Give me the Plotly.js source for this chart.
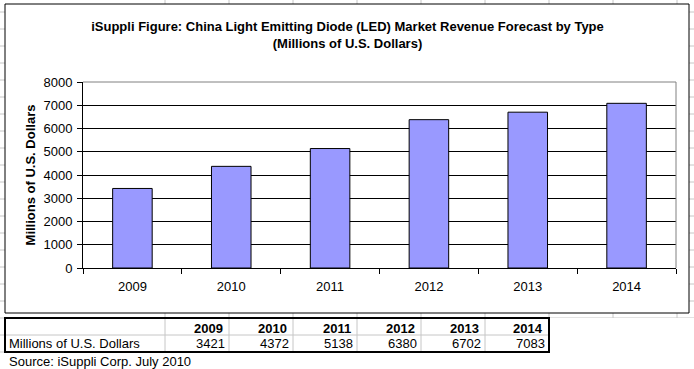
<!DOCTYPE html>
<html><head><meta charset="utf-8">
<script src="https://cdn.plot.ly/plotly-3.0.1.min.js"></script>
<style>html,body{margin:0;padding:0;background:#fff;} #chart{width:694px;height:369px;}</style>
</head><body><div id="chart"></div>
<script>
// ---- data ----
const years = ['2009', '2010', '2011', '2012', '2013', '2014'];
const revenue = [3421, 4372, 5138, 6380, 6702, 7083];
const seriesName = 'Millions of U.S. Dollars';
const yTickVals = [0, 1000, 2000, 3000, 4000, 5000, 6000, 7000, 8000];
const titleLines = ['iSuppli Figure: China Light Emitting Diode (LED) Market Revenue Forecast by Type', '(Millions of U.S. Dollars)'];
const yTitle = 'Millions of U.S. Dollars';
const sourceNote = 'Source: iSuppli Corp. July 2010';

// ---- geometry helpers (pixels -> paper, margins are 0) ----
const W = 694, H = 369;
const px = x => x / W;
const py = y => 1 - y / H;
const FONT = 'Liberation Sans, Arial, sans-serif';

const shapes = [];
// spreadsheet grid behind everything
for (let k = 0; k <= 8; k++) {
  const x = 165 + 64 * k;
  shapes.push({type: 'line', xref: 'paper', yref: 'paper', layer: 'below',
    x0: px(x), x1: px(x), y0: 0, y1: 1, line: {color: '#c6c6c6', width: 1}});
}
for (let k = 0; k <= 21; k++) {
  const y = 12 + 17 * k;
  shapes.push({type: 'line', xref: 'paper', yref: 'paper', layer: 'below',
    x0: 0, x1: 1, y0: py(y), y1: py(y), line: {color: '#c6c6c6', width: 1}});
}
// blank areas of the sheet (below table, right of table)
shapes.push({type: 'rect', xref: 'paper', yref: 'paper', layer: 'below',
  x0: 0, x1: 1, y0: 0, y1: py(353), fillcolor: '#ffffff', line: {width: 0}});
shapes.push({type: 'rect', xref: 'paper', yref: 'paper', layer: 'below',
  x0: px(550), x1: 1, y0: 0, y1: py(318), fillcolor: '#ffffff', line: {width: 0}});
// chart box
shapes.push({type: 'rect', xref: 'paper', yref: 'paper', layer: 'below',
  x0: px(5), x1: px(689), y0: py(313), y1: py(4),
  fillcolor: '#ffffff', line: {color: '#000000', width: 1}});
// plot-area border (top & right, gray)
shapes.push({type: 'line', xref: 'x domain', yref: 'y domain', layer: 'above',
  x0: 0, x1: 1, y0: 1, y1: 1, line: {color: '#808080', width: 1}});
shapes.push({type: 'line', xref: 'x domain', yref: 'y domain', layer: 'above',
  x0: 1, x1: 1, y0: 0, y1: 1, line: {color: '#808080', width: 1}});
// data table thick outline
shapes.push({type: 'rect', xref: 'paper', yref: 'paper', layer: 'above',
  x0: px(5), x1: px(549), y0: py(352), y1: py(318),
  line: {color: '#000000', width: 2}});

const bars = {
  type: 'bar', x: years, y: revenue, name: seriesName,
  marker: {color: '#9999ff', line: {color: '#000000', width: 1}},
  hoverinfo: 'x+y'
};

// ---- data table below the chart (built from the arrays) ----
const annotations = [];
const cellFont = {family: FONT, size: 13, color: '#000'};
annotations.push({text: seriesName, xref: 'paper', yref: 'paper',
  x: px(7), y: py(343), xanchor: 'left', yanchor: 'middle', showarrow: false, font: cellFont});
years.forEach((yr, i) => {
  const right = 229 + 64 * i;
  annotations.push({text: '<b>' + yr + '</b>', xref: 'paper', yref: 'paper',
    x: px(right - 4), y: py(328), xanchor: 'right', yanchor: 'middle', showarrow: false, font: cellFont});
  annotations.push({text: String(revenue[i]), xref: 'paper', yref: 'paper',
    x: px(right - 2), y: py(343), xanchor: 'right', yanchor: 'middle', showarrow: false, font: cellFont});
});
annotations.push({text: sourceNote, xref: 'paper', yref: 'paper',
  x: px(7), y: py(361), xanchor: 'left', yanchor: 'middle', showarrow: false, font: cellFont});

const layout = {
  width: W, height: H,
  margin: {l: 0, r: 0, t: 0, b: 0, pad: 0},
  paper_bgcolor: '#ffffff',
  plot_bgcolor: '#c0c0c0',
  showlegend: false,
  font: {family: FONT, size: 13, color: '#000'},
  bargap: 0.6,
  title: {
    text: '<b>' + titleLines.join('<br>') + '</b>',
    font: {family: FONT, size: 13, color: '#000'},
    xref: 'container', yref: 'container',
    x: 347.5 / W, xanchor: 'center',
    y: py(31), yanchor: 'top'
  },
  xaxis: {
    domain: [px(83), px(676)],
    type: 'category',
    ticks: 'outside', tickson: 'boundaries', ticklen: 5, tickcolor: '#000', tickwidth: 1,
    showline: true, linecolor: '#000', linewidth: 1,
    showgrid: false, zeroline: false,
    tickfont: {family: FONT, size: 13, color: '#000'},
    ticklabelstandoff: 6,
    fixedrange: true
  },
  yaxis: {
    domain: [py(268), py(82)],
    range: [0, 8000],
    tickmode: 'array', tickvals: yTickVals, ticktext: yTickVals.map(String),
    ticks: 'outside', ticklen: 5, tickcolor: '#000', tickwidth: 1,
    showline: true, linecolor: '#000', linewidth: 1,
    showgrid: true, gridcolor: '#000', gridwidth: 1,
    zeroline: false,
    tickfont: {family: FONT, size: 13, color: '#000'},
    ticklabelstandoff: 2,
    title: {text: '<b>' + yTitle + '</b>', font: {family: FONT, size: 13, color: '#000'}, standoff: 4},
    fixedrange: true
  },
  shapes: shapes,
  annotations: annotations
};

Plotly.newPlot('chart', [bars], layout, {displayModeBar: false, staticPlot: true});
</script>
</body></html>
